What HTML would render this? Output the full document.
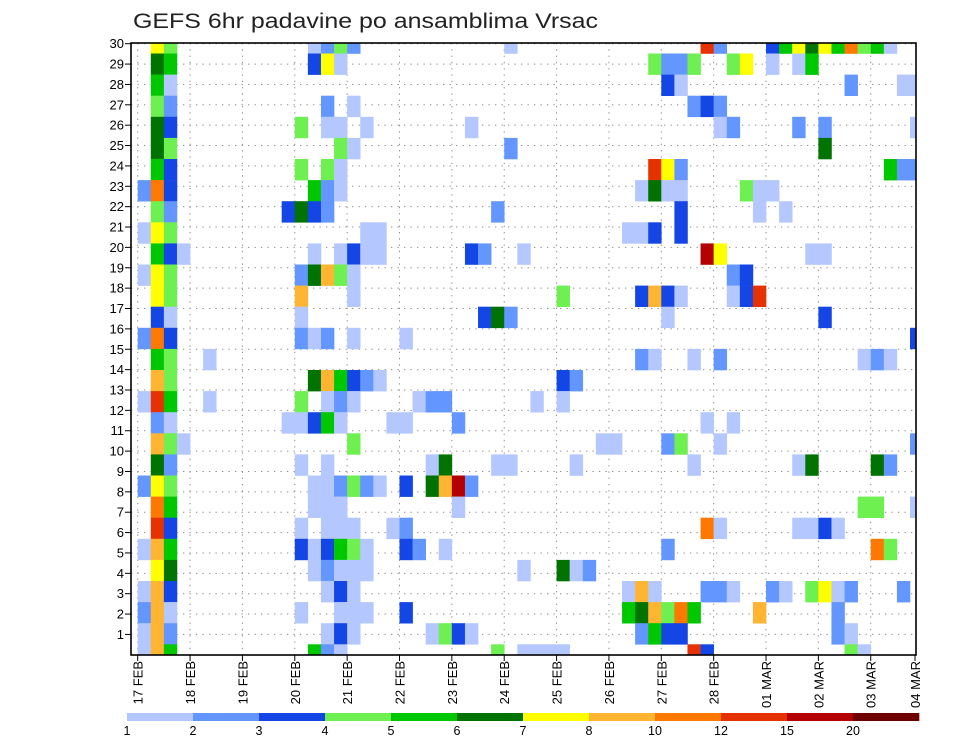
<!DOCTYPE html>
<html><head><meta charset="utf-8">
<style>
html,body{margin:0;padding:0;background:#fff;}
svg{display:block;font-family:"Liberation Sans",sans-serif;}
</style></head>
<body>
<svg id="chart" width="960" height="742" viewBox="0 0 960 742" xmlns="http://www.w3.org/2000/svg">
<text x="133" y="28" font-size="21" fill="#222" textLength="465" lengthAdjust="spacingAndGlyphs">GEFS 6hr padavine po ansamblima Vrsac</text>
<g id="grid"></g>
<g id="cells"></g>
<g id="axes"></g>
<g id="legend"></g>
</svg>
<script>
// ---- data ----
const dayLabels = ["17 FEB","18 FEB","19 FEB","20 FEB","21 FEB","22 FEB","23 FEB","24 FEB","25 FEB","26 FEB","27 FEB","28 FEB","01 MAR","02 MAR","03 MAR","04 MAR"];
const yTicks = [1,2,3,4,5,6,7,8,9,10,11,12,13,14,15,16,17,18,19,20,21,22,23,24,25,26,27,28,29,30];
const levelLabels = ["1","2","3","4","5","6","7","8","10","12","15","20"];
const levelCodes = ["a","b","c","d","e","f","g","h","i","j","k","l"];
const levelColors = ["#b4c8ff","#6496ff","#1446e6","#6ef050","#00c800","#007300","#ffff00","#ffb432","#ff7800","#e63200","#b40000","#6e0000"];
// ensemble rows, top to bottom: "col:code" entries, col = 6-hour step index from 17 FEB 00
const rowA = "1g 2d 13a 14b 15d 16b 28a 43j 44b 48c 49e 50g 51f 52g 53e 54i 55d 56e 57a";
const rowB = "1f 2e 13c 14g 15a 39d 40b 41b 42d 45d 46g 48a 50a 51e";
const rowC = "1e 2a 40c 41a 54b 58a 59a";
const rowD = "1d 2b 14b 16a 42b 43c 44b";
const rowE = "1f 2c 12d 14a 15a 17a 25a 44a 45b 50b 52b 59a";
const rowF = "1f 2d 15d 16a 28b 52f";
const rowG = "1e 2c 12d 14d 15a 39j 40g 41b 57e 58b 59b";
const rowH = "0b 1i 2c 13e 14b 15a 38a 39f 40a 41a 46d 47a 48a";
const rowI = "1d 2b 11c 12f 13c 14b 27b 41c 47a 49a";
const rowJ = "0a 1g 2d 17a 18a 37a 38a 39c 41c";
const rowK = "1e 2c 3a 13a 15a 16c 17a 18a 25c 26b 29a 43k 44g 51a 52a";
const rowL = "0a 1g 2d 12b 13f 14h 15d 16a 45b 46c";
const rowM = "1g 2d 12h 16a 32d 38c 39h 40c 41a 45a 46c 47j";
const rowN = "1c 2a 12a 26c 27f 28b 40a 52c";
const rowO = "0b 1i 2c 12b 13a 14b 16a 20a 59c";
const rowP = "1e 2d 5a 38b 39a 42a 44b 55a 56b 57a";
const rowQ = "1h 2d 13f 14h 15e 16c 17b 18a 32c 33b";
const rowR = "0a 1j 2e 5a 12d 14a 15b 16a 21a 22b 23b 30a 32a";
const rowS = "1b 2a 11a 12a 13c 14e 15a 19a 20a 24b 43a 45a";
const rowT = "1h 2d 3a 16d 35a 36a 40b 41d 44a 59b";
const rowU = "1f 2b 12a 14a 22a 23f 27a 28a 33a 42a 50a 51f 56f 57b";
const rowV = "0b 1g 2d 13a 14a 15b 16d 17b 18a 20c 22f 23h 24k 25b";
const rowW = "1i 2e 13a 14a 15a 24a 55d 56d 59a";
const rowX = "1j 2c 12a 14a 15a 16a 19a 20b 43i 44a 50a 51a 52c 53a";
const rowY = "0a 1h 2e 12c 13a 14c 15e 16d 17a 20c 21b 23a 40b 56i 57d";
const rowZ = "1g 2f 13a 14b 15a 16a 17a 29a 32f 33a 34b";
const rowAA = "0a 1h 2c 14a 15c 16a 37a 38h 39a 43b 44b 45a 48b 49a 51d 52g 53a 54b 58b";
const rowAB = "0b 1h 2a 12a 15a 16a 17a 20c 37e 38f 39h 40d 41i 42e 47h 53b";
const rowAC = "0a 1h 2b 14a 15c 16a 22a 23d 24c 25a 38b 39e 40c 41c 53b 54a";
const rowAD = "0a 1h 2e 13e 14b 15a 27d 29a 30a 31a 32a 42j 43c 54d 55a";
const memberRows = [rowA,rowB,rowC,rowD,rowE,rowF,rowG,rowH,rowI,rowJ,rowK,rowL,rowM,rowN,rowO,rowP,rowQ,rowR,rowS,rowT,rowU,rowV,rowW,rowX,rowY,rowZ,rowAA,rowAB,rowAC,rowAD];

// ---- geometry ----
const NS = "http://www.w3.org/2000/svg";
const L = 131, R = 916, T = 43, B = 655;
const x0 = 137.7, colW = 13.09, dayW = colW * 4;
const tickY30 = 43.7, tickStep = 20.37;
const cellFirstEdge = 53.5, cellH = 21.1;
function xCol(c){ return x0 + c * colW; }
function xDay(d){ return x0 + d * dayW; }
function yTick(m){ return tickY30 + (30 - m) * tickStep; }
function cellTop(i){ return i === 0 ? T - 10 : cellFirstEdge + (i - 1) * cellH; }
function cellHeight(i){ return i === 0 ? cellFirstEdge - (T - 10) : cellH; }
function mk(tag, attrs, parent){
  const e = document.createElementNS(NS, tag);
  for (const k in attrs) e.setAttribute(k, attrs[k]);
  parent.appendChild(e); return e;
}
const svg = document.getElementById("chart");
const defs = mk("defs", {}, svg);
const cp = mk("clipPath", {id:"plotclip"}, defs);
mk("rect", {x:L, y:T, width:R-L, height:B-T}, cp);

// grid
const grid = document.getElementById("grid");
yTicks.forEach(m => {
  const ln = mk("line", {x1:L, x2:R, y1:yTick(m), y2:yTick(m), stroke:"#8a8a8a", "stroke-width":1, "stroke-dasharray":"1.3,5.2"}, grid);
  
  
});
dayLabels.forEach((d, i) => {
  if (xDay(i) > R) return;
  const ln = mk("line", {x1:xDay(i), x2:xDay(i), y1:T, y2:B, stroke:"#8a8a8a", "stroke-width":1, "stroke-dasharray":"1.3,5"}, grid);
  
  
});

// cells
const cells = document.getElementById("cells");
cells.setAttribute("clip-path", "url(#plotclip)");
memberRows.forEach((rowStr, i) => {
  rowStr.trim().split(/\s+/).forEach(tok => {
    const col = parseInt(tok, 10);
    const code = tok.replace(/[0-9]/g, "");
    const li = levelCodes.indexOf(code);
    if (li < 0) return;
    const r = mk("rect", {x:xCol(col), y:cellTop(i), width:colW + 0.3, height:cellHeight(i) + 0.3, fill:levelColors[li]}, cells);
    
    
  });
});

// axes
const axes = document.getElementById("axes");
const frame = mk("rect", {x:L, y:T, width:R-L, height:B-T, fill:"none", stroke:"#000", "stroke-width":1.6}, axes);


yTicks.forEach(m => {
  mk("line", {x1:L-6, x2:L, y1:yTick(m), y2:yTick(m), stroke:"#000", "stroke-width":1}, axes);
  const t = mk("text", {x:L-7, y:yTick(m)+4.5, "text-anchor":"end", "font-size":13, fill:"#000"}, axes);
  t.textContent = String(m);
  
  
});
dayLabels.forEach((d, i) => {
  const x = Math.min(xDay(i), R - 1);
  mk("line", {x1:x, x2:x, y1:B, y2:B+6, stroke:"#000", "stroke-width":1}, axes);
  const t = mk("text", {x:0, y:0, "text-anchor":"end", "font-size":13, fill:"#000", transform:"translate(" + (x+5) + "," + (B+6) + ") rotate(-90)"}, axes);
  t.textContent = d;
  
  
});

// colorbar
const legend = document.getElementById("legend");
const lx0 = 127, segW = 66, ly = 713, lh = 8;
levelColors.forEach((c, i) => {
  const r = mk("rect", {x:lx0 + i*segW, y:ly, width:segW + 0.3, height:lh, fill:c}, legend);
  
  
});
levelLabels.forEach((lab, i) => {
  const t = mk("text", {x:lx0 + i*segW, y:ly + lh + 14, "text-anchor":"middle", "font-size":12.5, fill:"#000"}, legend);
  t.textContent = lab;
  
  
});
</script>
</body></html>
